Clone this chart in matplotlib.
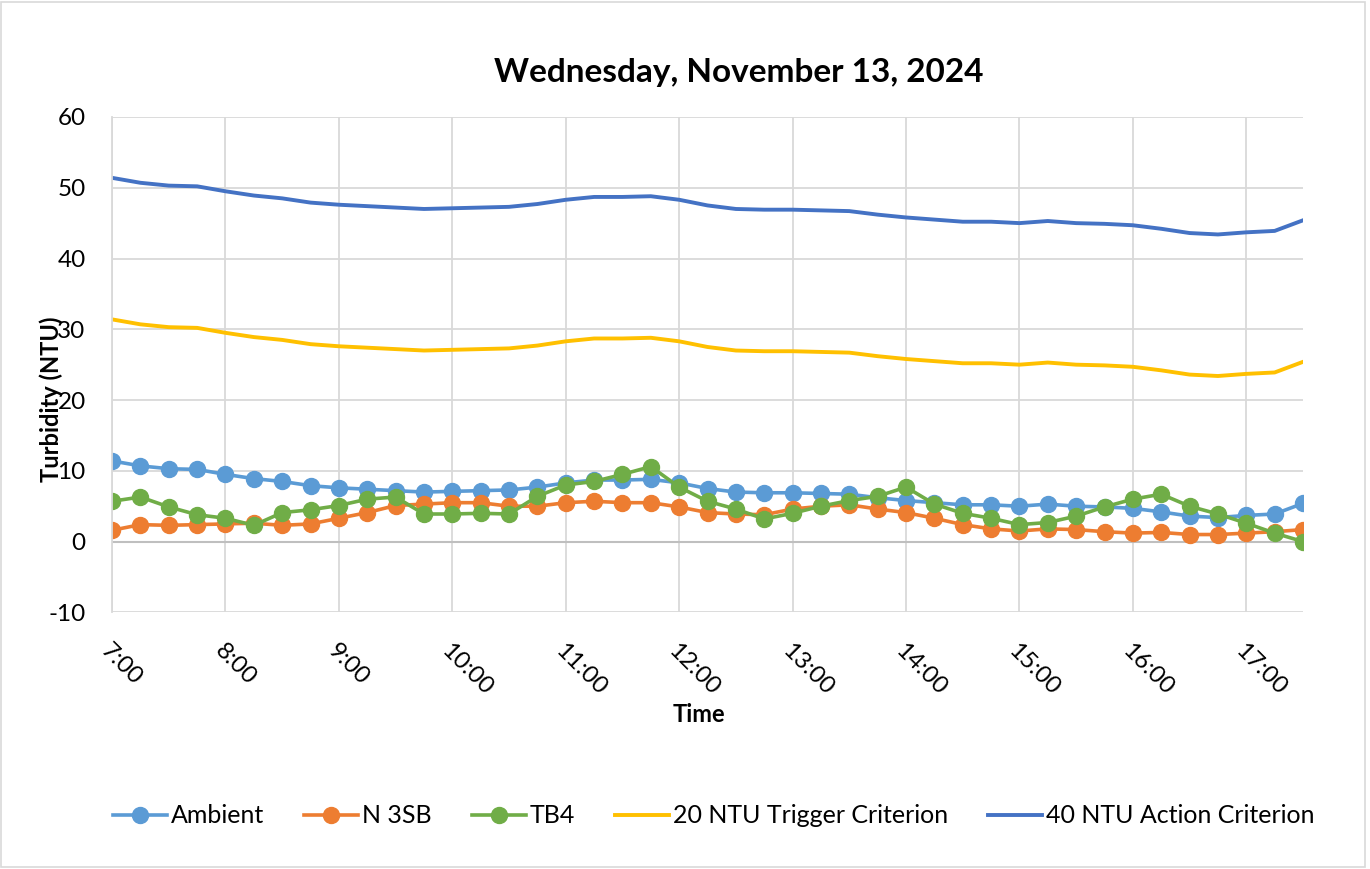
import matplotlib.pyplot as plt
from matplotlib.patches import Rectangle

plt.rcParams["font.family"] = ["Lato", "DejaVu Sans"]
plt.rcParams["axes.unicode_minus"] = False

# 15-minute readings, 7:00 to 17:30
times = [f"{7 + i // 4}:{15 * (i % 4):02d}" for i in range(43)]

ambient = [11.4, 10.7, 10.3, 10.2, 9.5, 8.9, 8.5, 7.9, 7.6, 7.4, 7.2, 7.0,
           7.1, 7.2, 7.3, 7.7, 8.3, 8.7, 8.7, 8.8, 8.3, 7.5, 7.0, 6.9,
           6.9, 6.8, 6.7, 6.2, 5.8, 5.5, 5.2, 5.2, 5.0, 5.3, 5.0, 4.9,
           4.7, 4.2, 3.6, 3.4, 3.7, 3.9, 5.4]
n3sb = [1.6, 2.4, 2.3, 2.4, 2.5, 2.6, 2.3, 2.5, 3.3, 4.1, 5.1, 5.3,
        5.5, 5.5, 5.0, 5.0, 5.5, 5.7, 5.5, 5.5, 4.9, 4.1, 3.9, 3.8,
        4.6, 5.0, 5.2, 4.6, 4.1, 3.3, 2.4, 1.8, 1.5, 1.8, 1.7, 1.4,
        1.2, 1.3, 1.0, 1.0, 1.2, 1.4, 1.7]
tb4 = [5.7, 6.3, 4.9, 3.8, 3.3, 2.3, 4.1, 4.5, 5.1, 6.0, 6.3, 3.9,
       3.9, 4.0, 3.9, 6.4, 8.0, 8.5, 9.5, 10.6, 7.7, 5.7, 4.6, 3.2,
       4.0, 5.0, 5.8, 6.4, 7.7, 5.3, 4.0, 3.3, 2.4, 2.7, 3.6, 4.9,
       6.0, 6.7, 5.0, 3.9, 2.6, 1.2, 0.0]
trigger = [31.4, 30.7, 30.3, 30.2, 29.5, 28.9, 28.5, 27.9, 27.6, 27.4, 27.2, 27.0,
           27.1, 27.2, 27.3, 27.7, 28.3, 28.7, 28.7, 28.8, 28.3, 27.5, 27.0, 26.9,
           26.9, 26.8, 26.7, 26.2, 25.8, 25.5, 25.2, 25.2, 25.0, 25.3, 25.0, 24.9,
           24.7, 24.2, 23.6, 23.4, 23.7, 23.9, 25.4]
action = [51.4, 50.7, 50.3, 50.2, 49.5, 48.9, 48.5, 47.9, 47.6, 47.4, 47.2, 47.0,
          47.1, 47.2, 47.3, 47.7, 48.3, 48.7, 48.7, 48.8, 48.3, 47.5, 47.0, 46.9,
          46.9, 46.8, 46.7, 46.2, 45.8, 45.5, 45.2, 45.2, 45.0, 45.3, 45.0, 44.9,
          44.7, 44.2, 43.6, 43.4, 43.7, 43.9, 45.4]

hour_labels = [f"{h}:00" for h in range(7, 18)]


def to_hours(label: str) -> float:
    h, m = label.split(":")
    return int(h) + int(m) / 60


x = [to_hours(t) for t in times]
hour_ticks = [to_hours(t) for t in hour_labels]

fig = plt.figure(figsize=(13.7, 8.69), dpi=100)
ax = fig.add_axes([0.0818, 0.2953, 0.8693, 0.5701])

marker_style = dict(marker="o", markersize=11.5, linewidth=2.6)
ax.plot(x, ambient, color="#5B9BD5", label="Ambient", **marker_style)
ax.plot(x, n3sb, color="#ED7D31", label="N 3SB", **marker_style)
ax.plot(x, tb4, color="#70AD47", label="TB4", **marker_style)
ax.plot(x, trigger, color="#FFC000", linewidth=2.8, label="20 NTU Trigger Criterion",
        solid_joinstyle="round")
ax.plot(x, action, color="#4472C4", linewidth=2.8, label="40 NTU Action Criterion",
        solid_joinstyle="round")

ax.set_xlim(7, 17.5)
ax.set_ylim(-10, 60)
ax.set_yticks(range(-10, 61, 10))
ax.set_xticks(hour_ticks)
ax.set_xticklabels(hour_labels, rotation=-45, ha="left", va="top",
                   rotation_mode="anchor")
ax.tick_params(axis="both", length=0, labelsize=17.5)
ax.tick_params(axis="y", pad=19)
ax.tick_params(axis="x", pad=20)

ax.grid(True, color="#D9D9D9", linewidth=1.3)
ax.set_axisbelow(True)
ax.axhline(0, color="#BFBFBF", linewidth=1.5, zorder=1)
for side in ["top", "right", "bottom"]:
    ax.spines[side].set_visible(False)
ax.spines["left"].set_color("#D9D9D9")
ax.spines["left"].set_linewidth(1.3)

fig.text(0.539, 0.916, "Wednesday, November 13, 2024", fontsize=24, fontweight="bold",
         ha="center", va="center")
ax.set_xlabel("Time", fontsize=17, fontweight="bold")
ax.xaxis.set_label_coords(0.493, -0.183)
# the reference draws the axis title over the tick labels
ax.set_ylabel("Turbidity (NTU)", fontsize=17, fontweight="bold")
ax.yaxis.set_label_coords(-0.041, 0.43)

fig.legend(loc="center", bbox_to_anchor=(0.521, 0.061), ncol=5, frameon=False,
           fontsize=18, handlelength=2.16, handletextpad=0.16, columnspacing=1.6,
           markerscale=1.0)

fig.add_artist(Rectangle((0.001, 0.002), 0.995, 0.996, transform=fig.transFigure,
                         fill=False, edgecolor="#D9D9D9", linewidth=1.2))

fig.savefig("out.png", dpi=100)
